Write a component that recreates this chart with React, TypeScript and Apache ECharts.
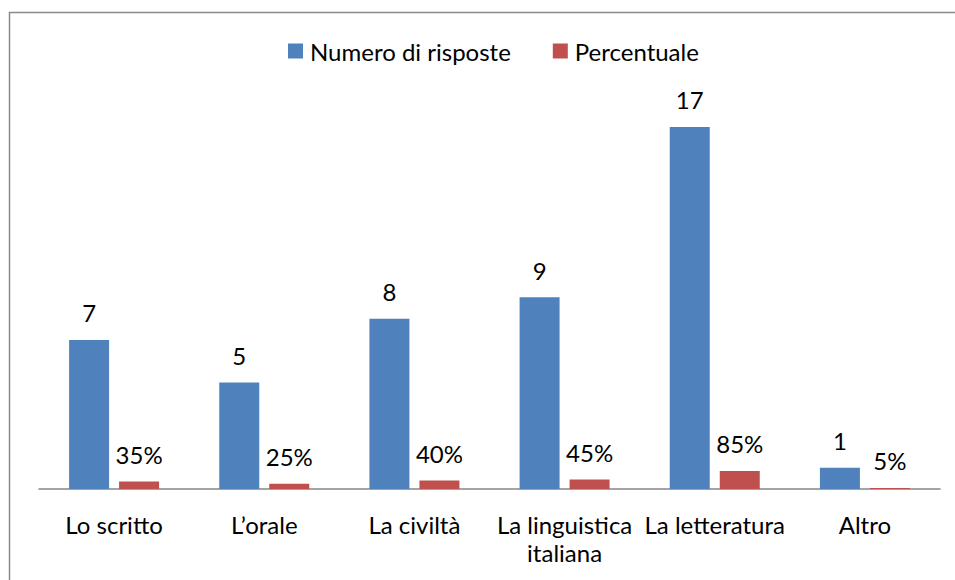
import React, { useEffect, useRef } from "react";
import * as echarts from "echarts";

const categories = ["Lo scritto", "L’orale", "La civiltà", "La linguistica italiana", "La letteratura", "Altro"];
const risposte = [7, 5, 8, 9, 17, 1];
const percentuale = [0.35, 0.25, 0.4, 0.45, 0.85, 0.05];
const seriesNames = ["Numero di risposte", "Percentuale"];

const FONT = "Lato";
const FS = 24;

export default function App() {
  const ref = useRef<HTMLDivElement>(null);
  useEffect(() => {
    document.body.style.margin = "0";
    const chart = echarts.init(ref.current!, null, { renderer: "svg" });
    chart.setOption({
      animation: false,
      textStyle: { fontFamily: FONT, color: "#000" },
      graphic: [
        {
          type: "rect",
          shape: { x: 9.5, y: 12.5, width: 1000, height: 1000 },
          style: { fill: "none", stroke: "#8a8a8a", lineWidth: 1.5 },
        },
      ],
      legend: {
        top: 34,
        left: 283,
        itemWidth: 15,
        itemHeight: 15,
        itemGap: 42,
        icon: "rect",
        textStyle: { fontFamily: FONT, fontSize: FS, color: "#000", padding: [0, 0, 0, 2] },
        data: seriesNames,
      },
      grid: { left: 39, right: 15, top: 105.7, bottom: 91 },
      xAxis: {
        type: "category",
        data: categories,
        axisLine: { lineStyle: { color: "#868686", width: 1.5 } },
        axisTick: { show: false },
        axisLabel: {
          interval: 0,
          margin: 21,
          fontFamily: FONT,
          fontSize: FS,
          color: "#000",
          lineHeight: 28,
          formatter: (v: string) => v.replace("linguistica ", "linguistica\n"),
        },
      },
      yAxis: {
        type: "value",
        min: 0,
        max: 18,
        show: false,
        splitLine: { show: false },
      },
      series: [
        {
          name: seriesNames[0],
          type: "bar",
          data: risposte,
          barWidth: 40,
          barGap: "25%",
          itemStyle: { color: "#4F81BD" },
          label: {
            show: true,
            position: "top",
            distance: 15,
            fontFamily: FONT,
            fontSize: FS,
            color: "#000",
          },
        },
        {
          name: seriesNames[1],
          type: "bar",
          data: percentuale,
          barWidth: 40,
          itemStyle: { color: "#C0504D" },
          label: {
            show: true,
            position: "top",
            distance: 15,
            fontFamily: FONT,
            fontSize: FS,
            color: "#000",
            formatter: (p: any) => Math.round(p.value * 100) + "%",
          },
        },
      ],
    });
    return () => chart.dispose();
  }, []);
  return <div ref={ref} style={{ width: 955, height: 580 }} />;
}
